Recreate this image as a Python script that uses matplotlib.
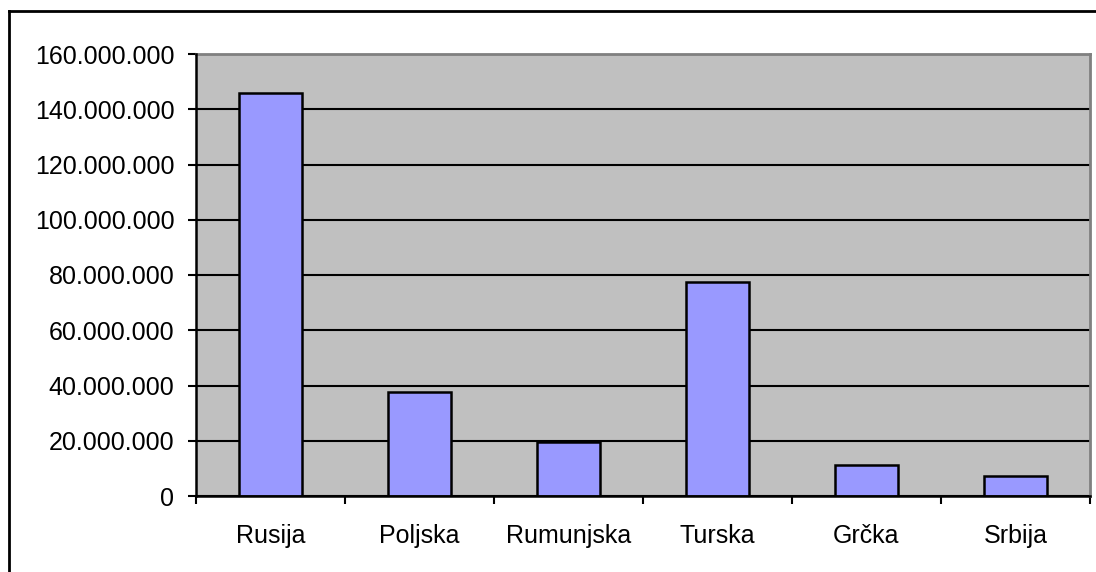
import numpy as np
import matplotlib.pyplot as plt
from matplotlib.ticker import FuncFormatter, FixedLocator
from matplotlib.lines import Line2D

plt.rcParams["font.family"] = ["Liberation Sans", "DejaVu Sans"]

countries = ["Rusija", "Poljska", "Rumunjska", "Turska", "Grčka", "Srbija"]
population = [146000000, 37600000, 19500000, 77600000, 11100000, 7300000]

fig = plt.figure(figsize=(10.96, 5.72), dpi=100)
ax = fig.add_axes([196 / 1096, 1 - 496 / 572, (1090 - 196) / 1096, (496 - 54) / 572])

x = np.arange(len(countries))
ax.set_facecolor("#C0C0C0")
ax.bar(x, population, width=0.42, color="#9999FF", edgecolor="black", linewidth=1.8, zorder=3)

ax.set_xlim(-0.5, len(countries) - 0.5)
ax.set_ylim(0, 160000000)
ax.set_yticks(np.arange(0, 160000001, 20000000))
ax.yaxis.set_major_formatter(FuncFormatter(lambda v, p: f"{int(v):,}".replace(",", ".")))
ax.grid(axis="y", color="black", linewidth=1.5, zorder=1)

ax.set_xticks(x)
ax.set_xticklabels(countries)
ax.xaxis.set_minor_locator(FixedLocator(np.arange(-0.5, len(countries), 1.0)))
ax.tick_params(axis="x", which="major", length=0, pad=20.5, labelsize=18)
ax.tick_params(axis="x", which="minor", length=6, width=1.5, direction="out")
ax.tick_params(axis="y", length=6, width=1.5, direction="out", pad=9.5, labelsize=18)

for s in ["top", "right"]:
    ax.spines[s].set_color("#808080")
    ax.spines[s].set_linewidth(2)
for s in ["left", "bottom"]:
    ax.spines[s].set_color("black")
    ax.spines[s].set_linewidth(1.8)
    ax.spines[s].set_zorder(4)

# outer chart frame
fx = 9 / 1096
fy = 1 - 11 / 572
fig.add_artist(Line2D([fx, fx], [0, fy], transform=fig.transFigure, color="black", linewidth=2))
fig.add_artist(Line2D([fx, 1], [fy, fy], transform=fig.transFigure, color="black", linewidth=2))

plt.savefig("out.png", dpi=100)
plt.close()
